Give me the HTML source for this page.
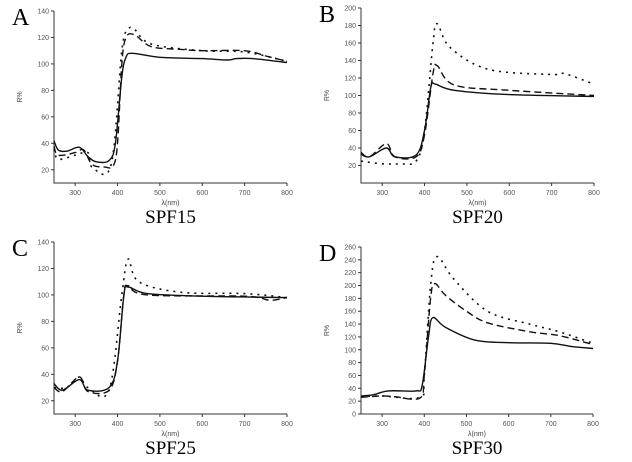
<!DOCTYPE html><html><head><style>body{margin:0;background:#fff}svg{display:block}</style></head><body>
<svg id="s" width="632" height="462" xmlns="http://www.w3.org/2000/svg" font-family="Liberation Sans, sans-serif"></svg>
<script>
const S=document.getElementById('s');let h='';
const P=[
{L:'A',t:'SPF15',x0:54,x1:287,yb:183,yt:11,vmin:10,vmax:140,ys:20,ye:140,st:20,xl:[300,400,500,600,700,800],
 s:[[[250,42],[260,35],[280,34],[310,37],[330,30],[350,26],[380,27],[395,40],[410,90],[420,105],[435,108],[500,105],[600,104],[660,103],[680,104],[720,104],[800,101]],
 [[250,38],[260,31],[300,33],[320,35],[340,24],[370,22],[390,23],[400,40],[410,100],[420,120],[440,122],[480,113],[550,111],[600,110],[700,110],[750,106],[800,102]],
 [[250,36],[260,28],[300,31],[330,33],[340,22],[385,24],[410,110],[425,126],[440,126],[480,115],[600,110],[700,109],[800,102]]]},
{L:'B',t:'SPF20',x0:361,x1:594,yb:183,yt:8,vmin:0,vmax:200,ys:20,ye:200,st:20,xl:[300,400,500,600,700,800],
 s:[[[250,33],[270,30],[310,40],[330,30],[380,32],[400,60],[415,110],[425,113],[470,106],[600,101],[800,99]],
 [[250,35],[270,30],[310,45],[330,30],[380,30],[400,55],[420,125],[430,134],[470,112],[600,106],[800,100]],
 [[250,25],[300,22],[340,22],[380,25],[400,60],[420,160],[430,182],[460,155],[550,130],[700,124],[730,125],[800,113]]]},
{L:'C',t:'SPF25',x0:54,x1:287,yb:414,yt:242,vmin:10,vmax:140,ys:20,ye:140,st:20,xl:[300,400,500,600,700,800],
 s:[[[250,33],[270,28],[310,36],[330,28],[380,30],[400,50],[415,100],[425,106],[470,101],[600,99],[800,98]],
 [[250,30],[270,27],[310,38],[330,27],[380,28],[400,50],[415,100],[425,107],[470,100],[700,99],[760,96],[800,98]],
 [[250,30],[280,30],[310,38],[330,30],[380,28],[410,100],[425,127],[450,110],[550,102],[700,101],[800,98]]]},
{L:'D',t:'SPF30',x0:361,x1:593,yb:414,yt:247,vmin:0,vmax:260,ys:0,ye:260,st:20,xl:[300,400,500,600,700,800],
 s:[[[250,28],[280,30],[315,36],[380,36],[395,45],[410,120],[420,150],[450,135],[520,115],[600,111],[700,110],[750,105],[800,102]],
 [[250,26],[300,28],[330,27],[390,25],[400,60],[415,180],[425,203],[450,185],[500,160],[550,142],[650,128],[720,122],[800,108]],
 [[250,27],[300,28],[390,26],[400,60],[415,200],[430,245],[470,210],[550,160],[650,140],[720,128],[800,110]]]}];
const dash=['','7 4','2 5'];
function smooth(pts){let d=`M${pts[0][0].toFixed(1)} ${pts[0][1].toFixed(1)}`;
 for(let i=0;i<pts.length-1;i++){const p0=pts[i-1]||pts[i],p1=pts[i],p2=pts[i+1],p3=pts[i+2]||p2;
  const c1=[p1[0]+(p2[0]-p0[0])/6,p1[1]+(p2[1]-p0[1])/6],c2=[p2[0]-(p3[0]-p1[0])/6,p2[1]-(p3[1]-p1[1])/6];
  d+=`C${c1[0].toFixed(1)} ${c1[1].toFixed(1)} ${c2[0].toFixed(1)} ${c2[1].toFixed(1)} ${p2[0].toFixed(1)} ${p2[1].toFixed(1)}`;}
 return d;}
for(const p of P){
 const X=v=>p.x0+(v-250)/550*(p.x1-p.x0), Y=v=>p.yb-(v-p.vmin)/(p.vmax-p.vmin)*(p.yb-p.yt);
 h+=`<path d="M${p.x0} ${p.yt}V${p.yb}H${p.x1}" stroke="#333" fill="none" stroke-width="1"/>`;
 for(let v=p.ys;v<=p.ye;v+=p.st){h+=`<line x1="${p.x0-3}" x2="${p.x0}" y1="${Y(v)}" y2="${Y(v)}" stroke="#333"/><text x="${p.x0-5}" y="${Y(v)+2.5}" font-size="7" fill="#555" text-anchor="end">${v}</text>`;}
 for(const v of p.xl){h+=`<line x1="${X(v)}" x2="${X(v)}" y1="${p.yb}" y2="${p.yb+3}" stroke="#333"/><text x="${X(v)}" y="${p.yb+12}" font-size="7" fill="#555" text-anchor="middle">${v}</text>`;}
 const cx=(p.x0+p.x1)/2;
 h+=`<text x="${cx}" y="${p.yb+22}" font-size="7" fill="#444" text-anchor="middle">λ(nm)</text>`;
 h+=`<text x="${cx}" y="${p.yb+40}" font-size="19" font-family="Liberation Serif, serif" text-anchor="middle">${p.t}</text>`;
 h+=`<text transform="translate(${p.x0-32},${(p.yb+p.yt)/2}) rotate(-90)" font-size="7" fill="#444" text-anchor="middle">R%</text>`;
 h+=`<text x="${p.x0-42}" y="${p.yt+14}" font-size="24" font-family="Liberation Serif, serif">${p.L}</text>`;
 p.s.forEach((s,i)=>{h+=`<path d="${smooth(s.map(a=>[X(a[0]),Y(a[1])]))}" fill="none" stroke="#111" stroke-width="${i==2?1.6:1.4}" stroke-dasharray="${dash[i]}" stroke-linejoin="round"/>`;});
}
S.innerHTML=h;
</script></body></html>
